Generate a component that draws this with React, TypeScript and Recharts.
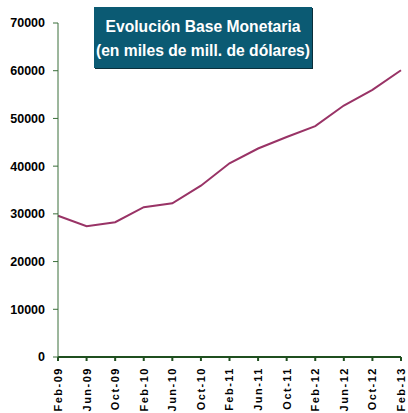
import React from 'react';
import { LineChart, Line, XAxis, YAxis } from 'recharts';

const months = ['Feb-09', 'Jun-09', 'Oct-09', 'Feb-10', 'Jun-10', 'Oct-10', 'Feb-11', 'Jun-11', 'Oct-11', 'Feb-12', 'Jun-12', 'Oct-12', 'Feb-13'];
const baseMonetaria = [29600, 27400, 28250, 31400, 32200, 35900, 40600, 43700, 46100, 48400, 52700, 56000, 60100];
const yTicks = [0, 10000, 20000, 30000, 40000, 50000, 60000, 70000];
const titleLines = ['Evolución Base Monetaria', '(en miles de mill. de dólares)'];

const data = months.map((m, i) => ({ month: m, value: baseMonetaria[i] }));

const FONT = "Arial, 'Liberation Sans', sans-serif";

const XTick = (props: any) => {
  const { x, y, payload } = props;
  return (
    <text
      x={x}
      y={y}
      transform={`rotate(-90, ${x}, ${y})`}
      textAnchor="end"
      dy="0.36em"
      dx={-4}
      fontFamily={FONT}
      fontWeight="bold"
      fontSize={11}
      letterSpacing={1.5}
      fill="#000"
    >
      {payload.value}
    </text>
  );
};

export default function App() {
  return (
    <div style={{ position: 'absolute', left: 0, top: 0, width: 408, height: 413, background: '#fff' }}>
      <LineChart width={408} height={413} data={data} margin={{ top: 23, right: 7, bottom: 0, left: 0 }}>
        <XAxis
          dataKey="month"
          height={56}
          interval={0}
          tick={<XTick />}
          tickSize={4}
          axisLine={{ stroke: '#1f4f1f', strokeWidth: 2 }}
          tickLine={{ stroke: '#1f4f1f', strokeWidth: 2 }}
        />
        <YAxis
          width={58}
          domain={[0, 70000]}
          ticks={yTicks}
          interval={0}
          tickSize={5}
          tickMargin={8}
          axisLine={{ stroke: '#3a6e3a', strokeWidth: 1 }}
          tickLine={{ stroke: '#3a6e3a' }}
          tick={{ fill: '#000', fontSize: 12.5, fontWeight: 'bold', fontFamily: FONT }}
        />
        <Line
          type="linear"
          dataKey="value"
          stroke="#993366"
          strokeWidth={2}
          dot={false}
          isAnimationActive={false}
        />
      </LineChart>
      <svg width={320} height={70} style={{ position: 'absolute', left: 44, top: 7 }}>
        <rect x={51} y={1} width={218} height={61} fill="#0a2e3a" />
        <rect x={50} y={0} width={218} height={61} fill="#0b5a73" />
        <g transform="translate(159, 25) scale(0.95, 1)">
          <text x={0} y={0} textAnchor="middle" fill="#fff" fontFamily={FONT} fontWeight="bold" fontSize={16.5}>
            {titleLines[0]}
          </text>
        </g>
        <g transform="translate(159, 49) scale(0.95, 1)">
          <text x={0} y={0} textAnchor="middle" fill="#fff" fontFamily={FONT} fontWeight="bold" fontSize={16.5}>
            {titleLines[1]}
          </text>
        </g>
      </svg>
    </div>
  );
}
